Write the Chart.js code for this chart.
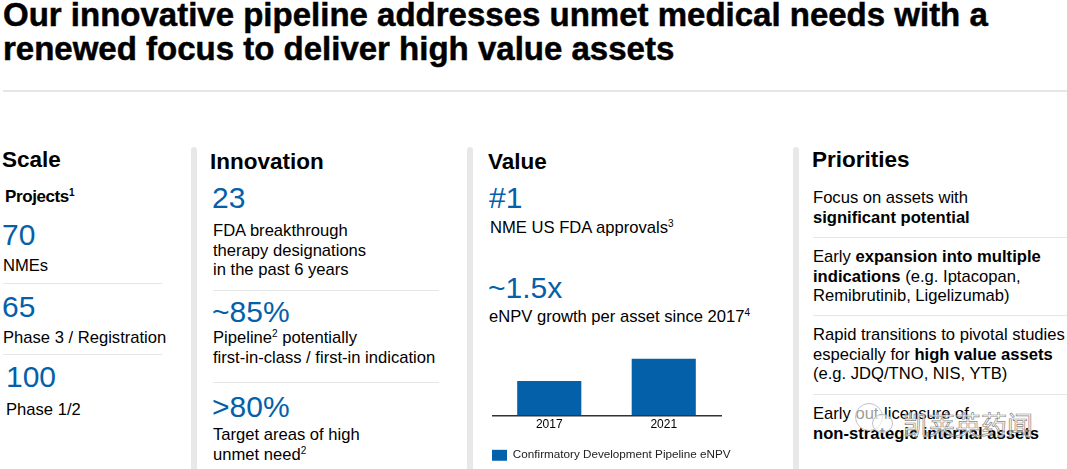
<!DOCTYPE html>
<html>
<head>
<meta charset="utf-8">
<script src="https://cdn.jsdelivr.net/npm/chart.js@4"></script>
<style>
  html, body { margin: 0; padding: 0; background: #fff; }
  body { width: 1067px; height: 469px; overflow: hidden; position: relative; font-family: "Liberation Sans", Arial, sans-serif; color: #000; }
  .t { position: absolute; white-space: nowrap; font-size: 16.6px; line-height: 19.5px; }
  .title { font-size: 33px; line-height: 30px; font-weight: bold; left: 3px; -webkit-text-stroke: 0.5px #000; }
  .head { font-size: 22.5px; line-height: 28px; font-weight: bold; }
  .num { font-size: 30px; line-height: 32px; color: #0460a9; }
  .rule { position: absolute; height: 1px; background: #e6e6e6; }
  .bar { position: absolute; width: 6px; top: 147px; height: 322px; background: #e8e8e8; border-radius: 3px 3px 0 0; }
  sup { font-size: 10px; line-height: 0; vertical-align: 6px; }
  #chartBox { position: absolute; left: 492px; top: 340px; width: 250px; height: 131px; }
  .mark { position: absolute; left: 903px; top: 406px; font-size: 26px; line-height: 36px; white-space: nowrap; font-family: "Noto Sans CJK SC"; color: rgba(255,255,255,0.7); -webkit-text-stroke: 0.7px #8a8a8a; }
  .ring { position: absolute; border-radius: 50%; border: 1px solid #c4c4c4; background: rgba(255,255,255,0.6); }
</style>
</head>
<body>
<div class="t title" style="top:0">Our innovative pipeline addresses unmet medical needs with a</div>
<div class="t title" style="top:34px">renewed focus to deliver high value assets</div>
<div class="rule" style="left:3px;top:90px;width:1064px;height:2px"></div>

<div class="bar" style="left:191px"></div>
<div class="bar" style="left:467px"></div>
<div class="bar" style="left:793px"></div>

<div class="t head" style="left:2px;top:146px">Scale</div>
<div class="t" style="left:5px;top:187px;font-weight:bold;font-size:17px;letter-spacing:-0.4px">Projects<sup>1</sup></div>
<div class="t num" style="left:2px;top:219px">70</div>
<div class="t" style="left:3px;top:256px">NMEs</div>
<div class="rule" style="left:3px;top:283px;width:159px"></div>
<div class="t num" style="left:2px;top:291px">65</div>
<div class="t" style="left:3px;top:328px">Phase 3 / Registration</div>
<div class="rule" style="left:3px;top:354px;width:159px"></div>
<div class="t num" style="left:6px;top:361px">100</div>
<div class="t" style="left:6px;top:400px">Phase 1/2</div>

<div class="t head" style="left:210px;top:148px">Innovation</div>
<div class="t num" style="left:212px;top:182px">23</div>
<div class="t" style="left:213px;top:221px">FDA breakthrough<br>therapy designations<br>in the past 6 years</div>
<div class="rule" style="left:213px;top:290px;width:226px"></div>
<div class="t num" style="left:212px;top:296px">~85%</div>
<div class="t" style="left:213px;top:328px">Pipeline<sup>2</sup> potentially<br>first-in-class / first-in indication</div>
<div class="rule" style="left:213px;top:382px;width:226px"></div>
<div class="t num" style="left:212px;top:391px">&gt;80%</div>
<div class="t" style="left:213px;top:425px">Target areas of high<br>unmet need<sup>2</sup></div>

<div class="t head" style="left:488px;top:148px">Value</div>
<div class="t num" style="left:489px;top:182px">#1</div>
<div class="t" style="left:490px;top:218px">NME US FDA approvals<sup>3</sup></div>
<div class="t num" style="left:488px;top:272px">~1.5x</div>
<div class="t" style="left:489px;top:307px">eNPV growth per asset since 2017<sup>4</sup></div>
<div id="chartBox"><canvas id="enpvChart" width="250" height="131"></canvas></div>

<div class="t head" style="left:812px;top:146px">Priorities</div>
<div class="t" style="left:813px;top:188px">Focus on assets with<br><b>significant potential</b></div>
<div class="rule" style="left:813px;top:237px;width:254px"></div>
<div class="t" style="left:813px;top:247px">Early <b>expansion into multiple<br>indications</b> (e.g. Iptacopan,<br>Remibrutinib, Ligelizumab)</div>
<div class="rule" style="left:813px;top:315px;width:254px"></div>
<div class="t" style="left:813px;top:325px">Rapid transitions to pivotal studies<br>especially for <b>high value assets</b><br>(e.g. JDQ/TNO, NIS, YTB)</div>
<div class="rule" style="left:813px;top:394px;width:254px"></div>
<div class="t" style="left:813px;top:404px">Early out-licensure of<br><b>non-strategic internal assets</b></div>

<div class="ring" style="left:855px;top:403px;width:26px;height:26px"></div>
<div class="ring" style="left:872px;top:414px;width:19px;height:17px"></div>
<div class="mark">凯莱英药闻</div>

<script>
const years = ["2017", "2021"];
const enpvValues = [1.0, 1.65];
const seriesName = "Confirmatory Development Pipeline eNPV";

new Chart(document.getElementById("enpvChart"), {
  type: 'bar',
  data: {
    labels: years,
    datasets: [{ label: seriesName, data: enpvValues, backgroundColor: '#0460a9', barPercentage: 0.56, categoryPercentage: 1 }]
  },
  options: {
    responsive: false,
    animation: false,
    plugins: {
      tooltip: { enabled: false },
      legend: {
        position: 'bottom',
        align: 'start',
        labels: { boxWidth: 15, boxHeight: 11, padding: 0, color: '#222', font: { family: 'Liberation Sans', size: 11.7 } }
      }
    },
    scales: {
      x: {
        grid: { display: false, drawTicks: false },
        border: { color: '#333', width: 1.5 },
        ticks: { color: '#000', padding: 2, font: { family: 'Liberation Sans', size: 12 } },
        afterFit: axis => { axis.height = 34; }
      },
      // hidden axis only keeps the bars clear of the wider legend
      y: {
        position: 'right',
        min: 0,
        max: 2.2,
        grid: { display: false },
        border: { display: false },
        ticks: { display: false },
        afterFit: axis => { axis.width = 21; }
      }
    }
  }
});
</script>
</body>
</html>
